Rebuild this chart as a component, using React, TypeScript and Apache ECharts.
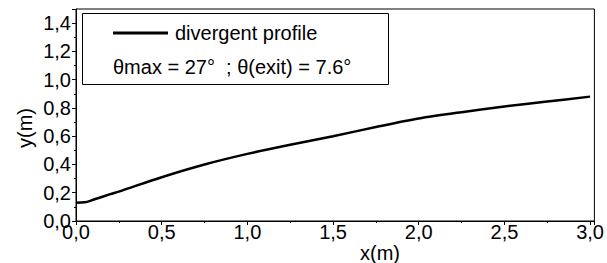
import React, { useEffect, useRef } from "react";
import * as echarts from "echarts";

const xValues = [0, 0.05, 0.1, 0.2, 0.25, 0.5, 0.75, 1.0, 1.25, 1.5, 1.75, 2.0, 2.25, 2.5, 2.75, 3.0];
const yValues = [0.13, 0.132, 0.15, 0.19, 0.208, 0.31, 0.4, 0.475, 0.54, 0.6, 0.665, 0.725, 0.77, 0.81, 0.845, 0.88];
const seriesName = "divergent profile";
const noteText = "θmax = 27°  ; θ(exit) = 7.6°";
const xName = "x(m)";
const yName = "y(m)";

const FONT = "'Liberation Sans', Arial, sans-serif";

const fmt = (v: number) => {
  const r = Math.round(v * 10) / 10;
  if (Math.abs(v - r) > 1e-6) return "";
  return r.toFixed(1).replace(".", ",");
};

export default function App() {
  const ref = useRef<HTMLDivElement>(null);
  useEffect(() => {
    if (!ref.current) return;
    const chart = echarts.init(ref.current, null, { renderer: "svg" });
    const data = xValues.map((x, i) => [x, yValues[i]]);
    chart.setOption({
      animation: false,
      backgroundColor: "#ffffff",
      grid: {
        left: 76,
        top: 9,
        right: 11,
        bottom: 42,
        show: true,
        borderColor: "#000",
        borderWidth: 1,
      },
      legend: {
        data: [{ name: seriesName, icon: "rect" }],
        left: 113,
        top: 23,
        padding: 0,
        itemWidth: 55,
        itemHeight: 3,
        itemGap: 0,
        itemStyle: { color: "#000" },
        textStyle: { fontFamily: FONT, fontSize: 20, color: "#000", padding: [0, 0, 0, 2] },
      },
      xAxis: {
        type: "value",
        min: 0,
        max: 3.025,
        interval: 0.5,
        axisLine: { show: true, lineStyle: { color: "#000", width: 1 } },
        axisTick: { show: true, length: 4, lineStyle: { color: "#000" } },
        minorTick: { show: true, splitNumber: 2, length: 2, lineStyle: { color: "#000" } },
        splitLine: { show: false },
        axisLabel: {
          margin: 5,
          formatter: fmt,
          fontFamily: FONT,
          fontSize: 20,
          lineHeight: 12,
          color: "#000",
        },
      },
      yAxis: {
        type: "value",
        min: 0,
        max: 1.5,
        interval: 0.2,
        axisLine: { show: true, lineStyle: { color: "#000", width: 1 } },
        axisTick: { show: true, length: 4, lineStyle: { color: "#000" } },
        minorTick: { show: true, splitNumber: 2, length: 2, lineStyle: { color: "#000" } },
        splitLine: { show: false },
        axisLabel: {
          margin: 5,
          formatter: fmt,
          fontFamily: FONT,
          fontSize: 20,
          lineHeight: 12,
          color: "#000",
          padding: [0, 0, 2, 0],
        },
      },
      series: [
        {
          name: seriesName,
          type: "line",
          data,
          symbol: "none",
          smooth: 0.3,
          lineStyle: { color: "#000", width: 2.5 },
          itemStyle: { color: "#000" },
        },
      ],
      graphic: [
        {
          type: "rect",
          shape: { x: 82.5, y: 13.5, width: 306, height: 71 },
          style: { fill: "none", stroke: "#000", lineWidth: 1 },
          z: 10,
        },
        {
          type: "text",
          x: 113,
          y: 67,
          style: {
            text: noteText,
            fontFamily: FONT,
            fontSize: 20,
            fill: "#000",
            verticalAlign: "middle",
          },
          z: 10,
        },
        {
          type: "text",
          x: 380,
          y: 253,
          style: {
            text: xName,
            fontFamily: FONT,
            fontSize: 20,
            fill: "#000",
            align: "center",
            verticalAlign: "middle",
          },
        },
        {
          type: "text",
          x: 25,
          y: 128,
          rotation: Math.PI / 2,
          style: {
            text: yName,
            fontFamily: FONT,
            fontSize: 20,
            fill: "#000",
            align: "center",
            verticalAlign: "middle",
          },
        },
      ],
    });
    return () => chart.dispose();
  }, []);
  return <div ref={ref} style={{ width: 607, height: 263, position: "absolute", left: 0, top: 0 }} />;
}
